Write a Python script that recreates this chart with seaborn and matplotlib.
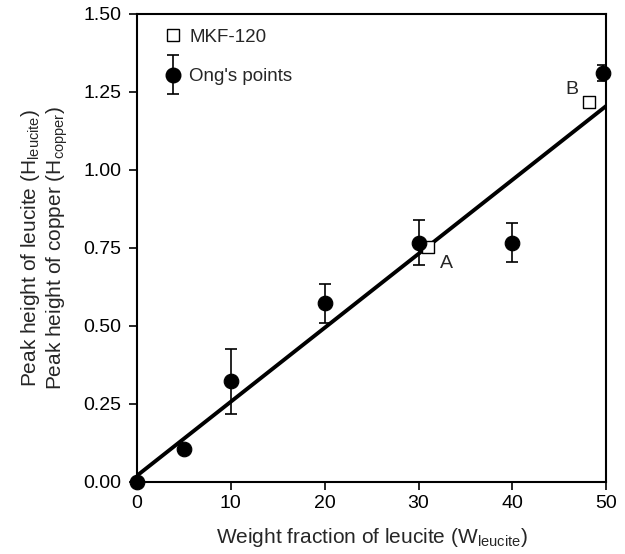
import matplotlib
matplotlib.use("Agg")
import matplotlib.pyplot as plt
import seaborn as sns
from matplotlib.lines import Line2D
from matplotlib.legend_handler import HandlerErrorbar

# Ong's points
ong_x = [0, 5, 10, 20, 30, 40, 49.7]
ong_y = [0.0, 0.105, 0.322, 0.575, 0.765, 0.765, 1.31]
ong_err_low = [0.0, 0.0, 0.105, 0.065, 0.07, 0.06, 0.025]
ong_err_high = [0.0, 0.0, 0.105, 0.06, 0.075, 0.065, 0.025]

# MKF-120 points
mkf_x = [31.0, 48.2]
mkf_y = [0.754, 1.219]
mkf_labels = ["A", "B"]

# Fit line
fit_x = [0, 50]
fit_y = [0.02, 1.205]

sns.set_style("ticks")
plt.rcParams['font.family'] = ['Liberation Sans', 'DejaVu Sans']

fig = plt.figure(figsize=(6.25, 5.54), dpi=100)
ax = fig.add_axes([0.219, 0.130, 0.751, 0.845])

sns.lineplot(x=fit_x, y=fit_y, ax=ax, color='black', lw=2.8, zorder=3)
ax.errorbar(ong_x, ong_y, yerr=[ong_err_low, ong_err_high], fmt='none',
            ecolor='black', elinewidth=1.2, capsize=4, capthick=1.2, zorder=4)
sns.scatterplot(x=ong_x, y=ong_y, ax=ax, color='black', s=110, marker='o',
                edgecolor='black', zorder=5, clip_on=False)
sns.scatterplot(x=mkf_x, y=mkf_y, ax=ax, marker='s', s=85, facecolor='white',
                edgecolor='black', linewidth=1.0, zorder=4)

ax.text(32.3, 0.70, mkf_labels[0], fontsize=14, ha='left', va='center')
ax.text(47.0, 1.256, mkf_labels[1], fontsize=14, ha='right', va='center')

# legend
h1 = Line2D([], [], marker='s', ls='none', mfc='white', mec='black', ms=8.5, mew=1.0)
eb = ax.errorbar([-100], [-100], yerr=[0.1], fmt='o', color='black', ms=10.5,
                 capsize=4, elinewidth=1.2, capthick=1.2)
leg = ax.legend([h1, eb], ["MKF-120", "Ong's points"], loc='upper left',
                bbox_to_anchor=(0.02, 1.005), frameon=False, fontsize=13.5,
                handletextpad=0.4, labelspacing=1.2, handlelength=1.0,
                handler_map={type(eb): HandlerErrorbar(yerr_size=1.05)})

ax.set_xlim(0, 50)
ax.set_ylim(0, 1.5)
ax.set_xticks([0, 10, 20, 30, 40, 50])
ax.set_yticks([0, 0.25, 0.5, 0.75, 1.0, 1.25, 1.5])
ax.set_yticklabels(["0.00", "0.25", "0.50", "0.75", "1.00", "1.25", "1.50"])
ax.tick_params(direction='out', length=6, width=1.2, labelsize=14, colors='black')
ax.tick_params(axis='y', pad=5)
for s in ax.spines.values():
    s.set_linewidth(1.5)
    s.set_color('black')

ax.set_xlabel("Weight fraction of leucite (W$_{\\mathregular{leucite}}$)", fontsize=15, labelpad=10)
ax.set_ylabel("Peak height of leucite (H$_{\\mathregular{leucite}}$)\nPeak height of copper (H$_{\\mathregular{copper}}$)",
              fontsize=15, labelpad=10, linespacing=1.1)

fig.savefig("out.png", dpi=100)
